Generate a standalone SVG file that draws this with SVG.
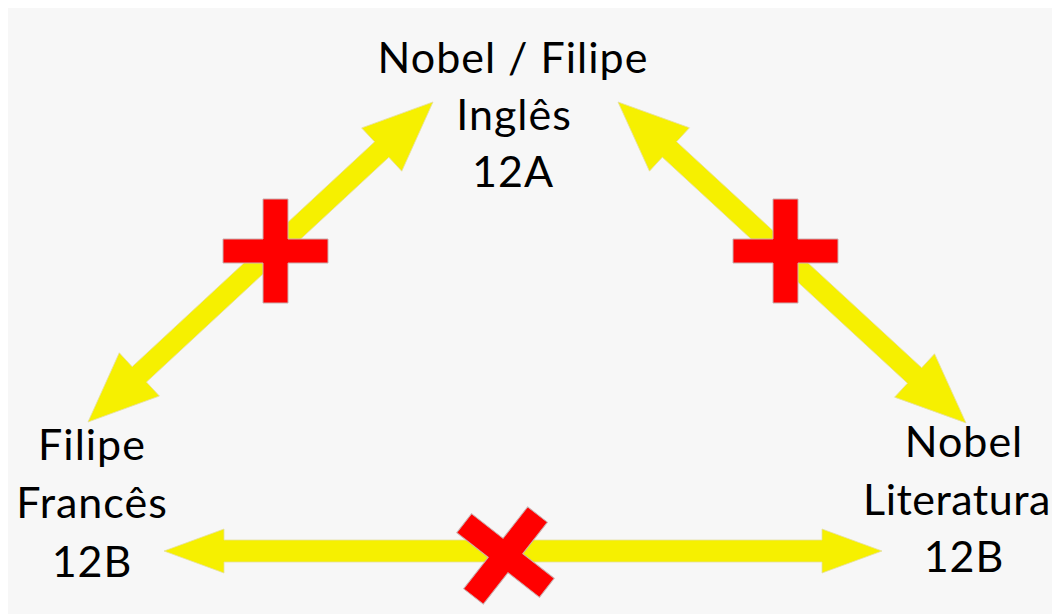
<svg xmlns="http://www.w3.org/2000/svg" width="1052" height="614" viewBox="0 0 1052 614">
<style>
.lbl{font-family:Lato,"Open Sans","Liberation Sans",sans-serif;font-size:43px;letter-spacing:1px;fill:#000;text-anchor:middle}
.arr{fill:#f6f000;stroke:#e6e0a0;stroke-width:0.8}
.cross{fill:#ff0000;stroke:#c9b0b0;stroke-width:1}
</style>
<defs>
<path id="plus" d="M-12.5,-52 H12.5 V-12 H52.5 V12 H12.5 V52 H-12.5 V12 H-52.5 V-12 H-12.5 Z"/>
</defs>
<rect x="0" y="0" width="1052" height="614" fill="#ffffff"/>
<rect x="8" y="8" width="1044" height="606" fill="#f7f7f7"/>
<g id="connectors">
<polygon class="arr" transform="translate(88,422) rotate(-42.85)" points="0,0 70,-29.5 70,-10.5 400.6,-10.5 400.6,-29.5 470.6,0 400.6,29.5 400.6,10.5 70,10.5 70,29.5"/>
<polygon class="arr" transform="translate(618,102) rotate(42.68)" points="0,0 70,-29.5 70,-10.5 403.4,-10.5 403.4,-29.5 473.4,0 403.4,29.5 403.4,10.5 70,10.5 70,29.5"/>
<polygon class="arr" transform="translate(164,551)" points="0,0 60,-22 60,-11 658,-11 658,-22 718,0 658,22 658,11 60,11 60,22"/>
<use class="cross" href="#plus" transform="translate(275.5,251)"/>
<use class="cross" href="#plus" transform="translate(785.5,251)"/>
<use class="cross" href="#plus" transform="translate(505.5,555.5) rotate(38)"/>
</g>
<g id="node-top">
<text class="lbl" x="513" y="73">Nobel / Filipe</text>
<text class="lbl" x="514" y="130">Inglês</text>
<text class="lbl" x="513" y="187">12A</text>
</g>
<g id="node-left">
<text class="lbl" x="92" y="460">Filipe</text>
<text class="lbl" x="92" y="518">Francês</text>
<text class="lbl" x="92" y="577">12B</text>
</g>
<g id="node-right">
<text class="lbl" x="964" y="457">Nobel</text>
<text class="lbl" x="957" y="515" style="letter-spacing:0.5px">Literatura</text>
<text class="lbl" x="964" y="572">12B</text>
</g>
</svg>
